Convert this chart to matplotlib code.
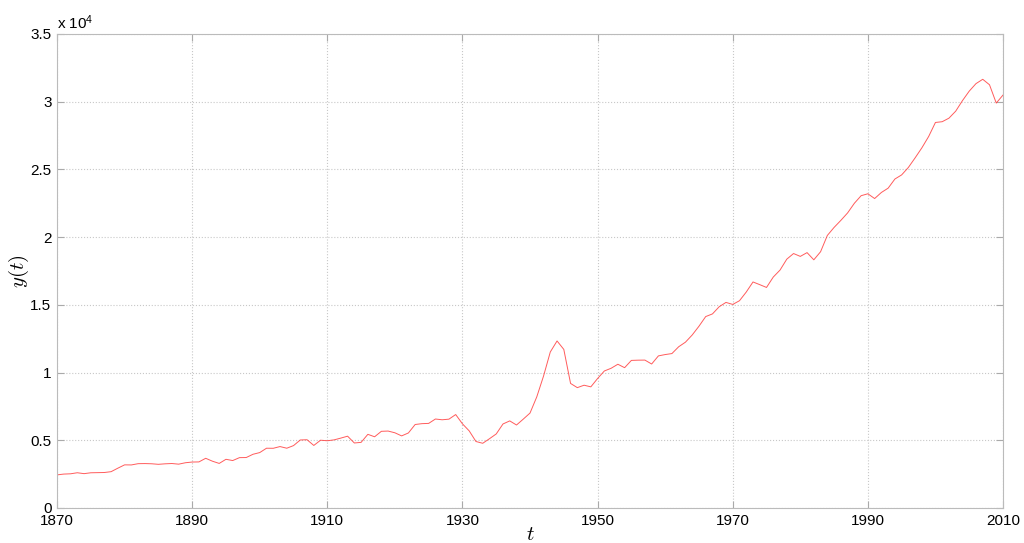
import matplotlib.pyplot as plt
from matplotlib.ticker import FuncFormatter

plt.rcParams['font.family'] = ['Liberation Sans', 'DejaVu Sans']
plt.rcParams['mathtext.fontset'] = 'cm'

years = list(range(1870, 2011))
gdp = [
    2445, 2503, 2524, 2601, 2535, 2599, 2605, 2619, 2680, 2939,  # 1870s
    3184, 3178, 3271, 3279, 3264, 3224, 3261, 3283, 3235, 3340,  # 1880s
    3392, 3401, 3669, 3454, 3290, 3594, 3502, 3717, 3725, 3965,  # 1890s
    4091, 4412, 4408, 4535, 4413, 4606, 5021, 5039, 4617, 5004,  # 1900s
    4964, 5029, 5160, 5301, 4799, 4845, 5438, 5258, 5661, 5680,  # 1910s
    5552, 5323, 5540, 6164, 6226, 6246, 6569, 6513, 6558, 6899,  # 1920s
    6213, 5691, 4908, 4777, 5114, 5467, 6204, 6430, 6126, 6561,  # 1930s
    7010, 8206, 9741, 11518, 12333, 11709, 9197, 8886, 9065, 8944,  # 1940s
    9561, 10116, 10316, 10613, 10359, 10897, 10914, 10920, 10631, 11230,  # 1950s
    11328, 11402, 11905, 12242, 12773, 13419, 14134, 14330, 14863, 15179,  # 1960s
    15030, 15304, 15944, 16689, 16491, 16284, 17052, 17567, 18373, 18789,  # 1970s
    18577, 18856, 18325, 18920, 20123, 20717, 21236, 21788, 22499, 23059,  # 1980s
    23201, 22849, 23298, 23616, 24291, 24596, 25149, 25859, 26600, 27435,  # 1990s
    28467, 28523, 28785, 29302, 30080, 30780, 31335, 31655, 31251, 29899,  # 2000s
    30491,
]

x_ticks = list(range(1870, 2011, 20))
y_ticks = list(range(0, 35001, 5000))

fig = plt.figure(figsize=(10.24, 5.43), dpi=100)
ax = fig.add_axes([0.0557, 0.0645, 0.9238, 0.8729])

ax.plot(years, gdp, color='#ff3333', lw=0.7, alpha=0.8)

ax.set_xlim(1870, 2010)
ax.set_ylim(0, 35000)
ax.set_xticks(x_ticks)
ax.set_yticks(y_ticks)
ax.yaxis.set_major_formatter(FuncFormatter(lambda v, p: '%g' % (v / 1e4)))

ax.grid(True, linestyle=':', color='#c8c8c8', lw=0.8)
ax.tick_params(direction='in', length=5, top=True, right=True,
               labelsize=11, color='#aaaaaa', pad=4)
for s in ax.spines.values():
    s.set_color('#bbbbbb')
    s.set_linewidth(0.8)

ax.text(0.0, 1.005, r'x $\mathregular{10^4}$', transform=ax.transAxes,
        fontsize=11, ha='left', va='bottom')
ax.set_xlabel('$t$', fontsize=15)
ax.set_ylabel('$y(t)$', fontsize=15)
ax.xaxis.set_label_coords(0.5, -0.036)
ax.yaxis.set_label_coords(-0.028, 0.5)

fig.savefig('out.png', dpi=100)
